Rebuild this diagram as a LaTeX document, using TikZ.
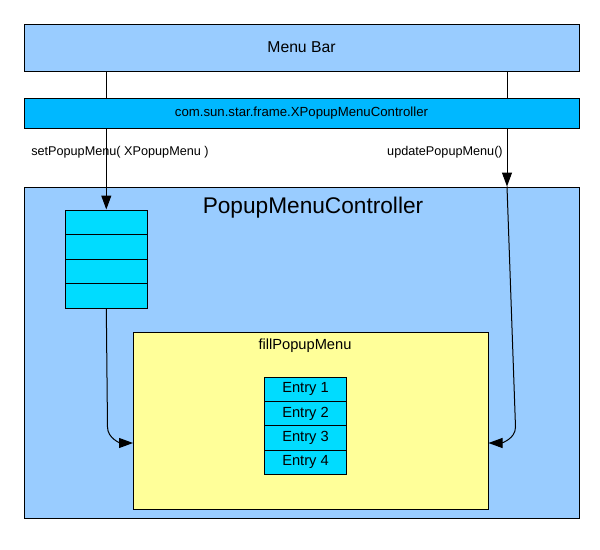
\documentclass[tikz,border=0pt]{standalone}
\usepackage{fontspec}
\setmainfont{Liberation Sans}
\usetikzlibrary{arrows.meta}
\definecolor{barblue}{HTML}{99CCFF}
\definecolor{ifblue}{HTML}{00B8FF}
\definecolor{cellblue}{HTML}{00DCFF}
\definecolor{paleyellow}{HTML}{FFFF99}
\begin{document}
\begin{tikzpicture}[x=0.75pt,y=-0.75pt,
  box/.style={draw=black,line width=0.75pt,inner sep=0pt,anchor=center},
  conn/.style={draw=black,line width=0.75pt},
  arr/.style={conn,-{Triangle[length=10.5pt,width=7.5pt]}},
  lbl/.style={inner sep=0pt,font=\fontsize{9.5}{11}\selectfont}]
\useasboundingbox[fill=white] (0,0) rectangle (600,550);
% boxes
\node[box,fill=barblue,minimum width=555*0.75pt,minimum height=47*0.75pt,font=\fontsize{11.8}{13}\selectfont] (menubar) at (301.5,47.5) {Menu Bar};
\node[box,fill=ifblue,minimum width=555*0.75pt,minimum height=30*0.75pt,font=\fontsize{9.9}{11}\selectfont] (xpmc) at (301.5,113) {com.sun.star.frame.XPopupMenuController};
\node[box,fill=barblue,minimum width=555*0.75pt,minimum height=331*0.75pt] (pmc) at (301.5,352.5) {};
\node[inner sep=0pt,font=\fontsize{17}{19}\selectfont] (title) at (313,208) {PopupMenuController};
% stack
\foreach \i/\yy in {1/222.25,2/246.75,3/271.25,4/295.75}{
  \node[box,fill=cellblue,minimum width=82*0.75pt,minimum height=24.5*0.75pt] (s\i) at (106.3,\yy) {};
}
% yellow
\node[box,fill=paleyellow,minimum width=355*0.75pt,minimum height=177*0.75pt] (fill) at (310.5,420.5) {};
\node[inner sep=0pt,font=\fontsize{11}{13}\selectfont] (filltitle) at (305,346) {fillPopupMenu};
\foreach \i/\yy in {1/389.2,2/413.6,3/438,4/462.4}{
  \node[box,fill=cellblue,minimum width=82*0.75pt,minimum height=24.4*0.75pt,font=\fontsize{11}{13}\selectfont] (e\i) at (305.5,\yy) {Entry \i};
}
% labels
\node[lbl,anchor=west] (setlbl) at (31,152) {setPopupMenu( XPopupMenu )};
\node[lbl,anchor=east] (updlbl) at (503,152) {updatePopupMenu()};
% connectors
\coordinate (rx) at (507,0);
\coordinate (la) at (133,443);
\coordinate (ra) at (488.5,443);
\draw[conn] (menubar.south -| s1) -- (xpmc.north -| s1);
\draw[conn] (menubar.south -| rx) -- (xpmc.north -| rx);
\draw[arr] (xpmc.south -| s1) -- (s1.north);
\draw[arr] (xpmc.south -| rx) -- (pmc.north -| rx);
\draw[arr] (s4.south) -- (107.5,427) to[out=-90,in=180] (la);
\draw[arr] (pmc.north -| rx) -- (515.5,427) to[out=-90,in=0] (ra);
\end{tikzpicture}
\end{document}
